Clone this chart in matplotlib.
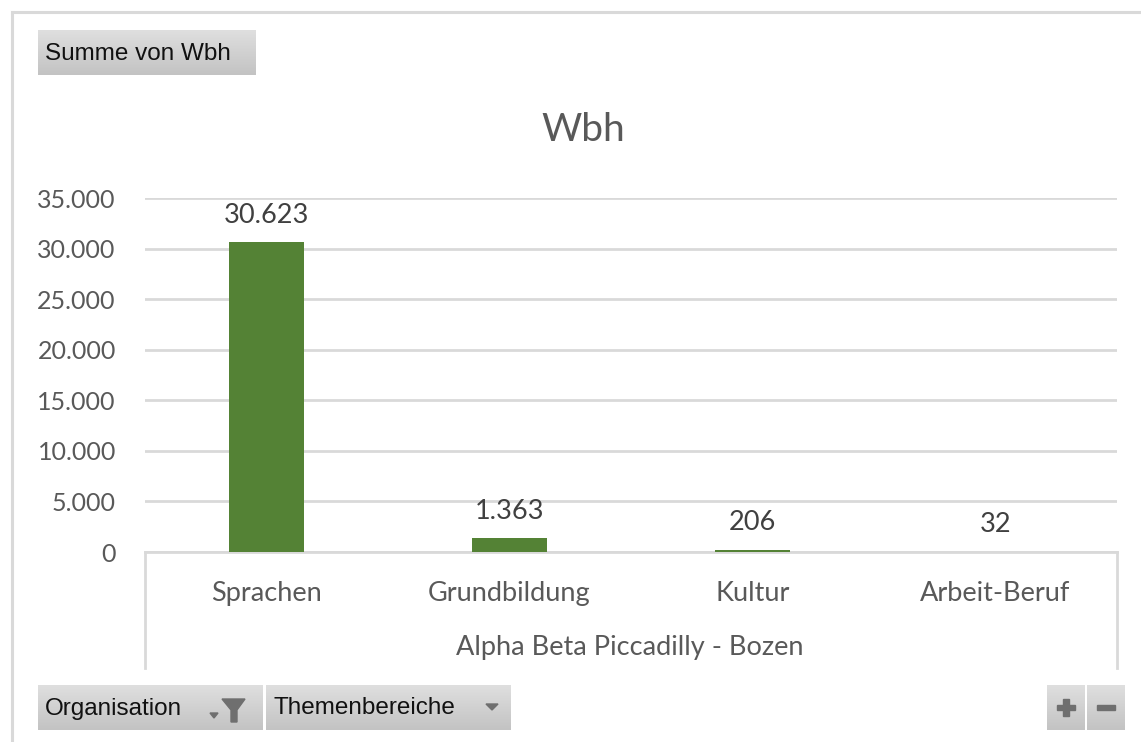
import numpy as np
import matplotlib
matplotlib.use('Agg')
import matplotlib.pyplot as plt
from matplotlib.patches import Polygon
from matplotlib.colors import LinearSegmentedColormap
from matplotlib.ticker import FuncFormatter

# ── data ────────────────────────────────────────────
categories = ['Sprachen', 'Grundbildung', 'Kultur', 'Arbeit-Beruf']
wbh = [30623, 1363, 206, 32]
group_label = 'Alpha Beta Piccadilly - Bozen'
title = 'Wbh'
y_ticks = [0, 5000, 10000, 15000, 20000, 25000, 30000, 35000]

W, H = 1141, 742
FONT = 'Lato'
NARROW = ['Liberation Sans Narrow', 'Liberation Sans']
GRID = '#d9d9d9'
TXT = '#595959'


def px(x, y):
    return x / W, 1 - y / H


def de_fmt(v, pos=None):
    return f"{v:,.0f}".replace(',', '.')


fig = plt.figure(figsize=(W / 100, H / 100), dpi=100)
fig.patch.set_facecolor('white')

# outer frame (left + top edge visible)
fig.add_artist(plt.Line2D([12 / W, 12 / W], [0, 1 - 12 / H],
                          transform=fig.transFigure, color=GRID, lw=2.2))
fig.add_artist(plt.Line2D([12 / W, 1], [1 - 12 / H, 1 - 12 / H],
                          transform=fig.transFigure, color=GRID, lw=2.2))

# ── plot area ───────────────────────────────────────
x0, x1, y_top, y_bot = 145, 1117, 198, 552
ax = fig.add_axes([x0 / W, 1 - y_bot / H, (x1 - x0) / W, (y_bot - y_top) / H])
xpos = np.arange(len(categories))
ax.bar(xpos, wbh, width=0.31, color='#548235', zorder=3)
ax.set_xlim(-0.5, len(categories) - 0.5)
ax.set_ylim(0, 35000)
ax.set_yticks(y_ticks)
ax.yaxis.set_major_formatter(FuncFormatter(de_fmt))
ax.grid(axis='y', color=GRID, lw=2, zorder=0)
ax.set_axisbelow(True)
for s in ax.spines.values():
    s.set_visible(False)
ax.tick_params(axis='y', length=0, pad=21, labelsize=18, labelcolor=TXT)
ax.set_xticks(xpos)
ax.set_xticklabels(categories)
ax.tick_params(axis='x', length=0, pad=21, labelsize=19.5, labelcolor=TXT)
for lab in ax.get_xticklabels() + ax.get_yticklabels():
    lab.set_fontfamily(FONT)

# data labels
for xi, v in zip(xpos, wbh):
    ax.annotate(de_fmt(v), (xi, v), xytext=(0, 14), textcoords='offset points',
                ha='center', va='baseline', fontsize=19.5, color='#404040',
                family=FONT)

# category bracket
ax.plot([0, 1], [0, 0], transform=ax.transAxes, color=GRID, lw=2,
        clip_on=False, zorder=2)
drop = (668 - y_bot) / (y_bot - y_top)
for xx in (0, 1):
    ax.plot([xx, xx], [0, -drop], transform=ax.transAxes, color=GRID, lw=2,
            clip_on=False)

fig.text(*px(583, 130), title, ha='center', va='center', fontsize=28,
         color=TXT, family=FONT)
fig.text(*px(630, 648), group_label, ha='center', va='center', fontsize=19.5,
         color=TXT, family=FONT)

# ── pivot buttons ───────────────────────────────────
grad_cmap = LinearSegmentedColormap.from_list('btn', ['#dfdfdf', '#c3c3c3'])
grad = np.linspace(0, 1, 64).reshape(-1, 1)


def button(bx0, by0, bx1, by1, label=None, tx=None):
    fx, fy = px(bx0, by1)
    b = fig.add_axes([fx, fy, (bx1 - bx0) / W, (by1 - by0) / H])
    b.imshow(grad, aspect='auto', cmap=grad_cmap, extent=[0, 1, 0, 1],
             origin='upper')
    b.axis('off')
    if label:
        fig.text(*px(tx, (by0 + by1) / 2 + 1), label, ha='left', va='center',
                 fontsize=17.5, color='#111111', family=NARROW)
    return b


def poly(pts, color='#6f6f6f'):
    fig.add_artist(Polygon([px(x, y) for x, y in pts], closed=True,
                           transform=fig.transFigure, color=color, zorder=10))


button(38, 30, 256, 75, 'Summe von Wbh', 45)
button(38, 685, 263, 730, 'Organisation', 45)
button(266, 685, 511, 730, 'Themenbereiche', 273)
button(1047, 685, 1085, 730)
button(1087, 685, 1125, 730)

# filter funnel + small arrow
poly([(222, 699), (245, 699), (237, 710), (237, 722), (231, 722), (231, 710)])
poly([(210, 713), (218, 713), (214, 718)])
# dropdown arrow
poly([(486, 704), (498, 704), (492, 710)])
# plus / minus
poly([(1057, 705), (1075, 705), (1075, 710), (1057, 710)])
poly([(1063, 699), (1069, 699), (1069, 716), (1063, 716)])
poly([(1097, 705), (1115, 705), (1115, 710), (1097, 710)])

fig.savefig('out.png', dpi=100)
